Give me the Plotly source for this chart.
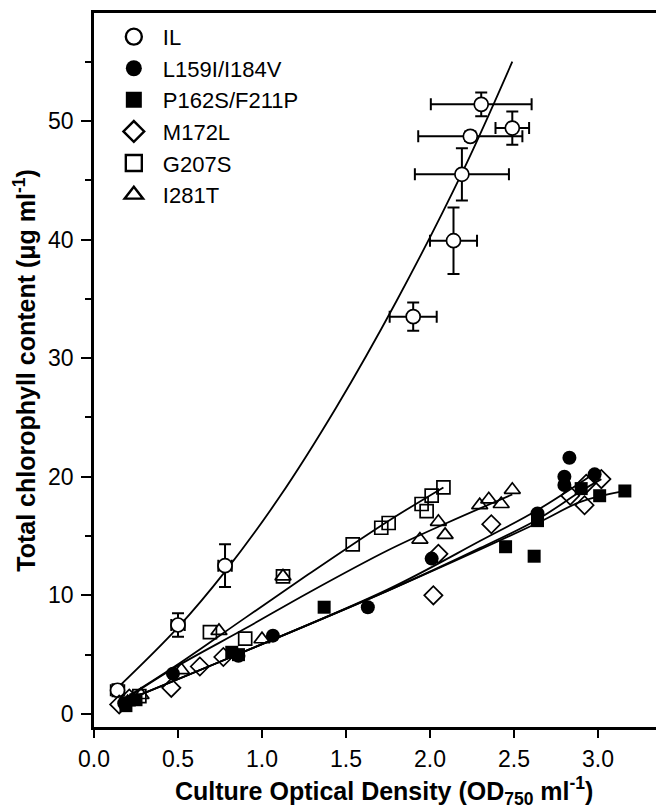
import plotly.graph_objects as go

# ---------------- data ----------------
il_x = [0.14, 0.50, 0.78, 1.90, 2.14, 2.19, 2.24, 2.305, 2.49]
il_y = [2.0, 7.5, 12.5, 33.5, 39.9, 45.5, 48.7, 51.4, 49.4]
il_xerr = [0.04, 0.04, 0.04, 0.14, 0.14, 0.28, 0.31, 0.30, 0.10]
il_yerr = [0.5, 1.0, 1.8, 1.2, 2.8, 2.2, 0.4, 1.0, 1.4]

l159_x = [0.18, 0.47, 0.86, 1.065, 1.63, 2.01, 2.64, 2.80, 2.80, 2.83, 2.98]
l159_y = [0.9, 3.4, 4.9, 6.6, 9.0, 13.1, 16.9, 20.0, 19.3, 21.6, 20.2]

p162_x = [0.19, 0.25, 0.82, 0.86, 1.37, 2.45, 2.62, 2.64, 2.90, 3.01, 3.16]
p162_y = [0.7, 1.2, 5.2, 5.0, 9.0, 14.1, 13.3, 16.3, 19.0, 18.4, 18.8]

m172_x = [0.15, 0.21, 0.46, 0.63, 0.77, 2.02, 2.05, 2.365, 2.835, 2.92, 2.93, 3.02]
m172_y = [0.8, 1.3, 2.2, 4.0, 4.8, 10.0, 13.5, 16.0, 18.4, 17.6, 19.4, 19.8]

g207_x = [0.27, 0.69, 0.90, 1.125, 1.54, 1.71, 1.754, 1.95, 1.98, 2.01, 2.08]
g207_y = [1.5, 6.9, 6.35, 11.6, 14.3, 15.7, 16.1, 17.7, 17.1, 18.4, 19.1]

i281_x = [0.20, 0.28, 0.52, 0.744, 1.0, 1.125, 1.94, 2.05, 2.09, 2.296, 2.35, 2.424, 2.49]
i281_y = [1.0, 1.6, 3.7, 7.0, 6.3, 11.6, 14.7, 16.2, 15.1, 17.6, 18.1, 17.7, 18.9]

# fitted curves, points
il_fit_x = [0.14, 0.50, 0.78, 1.10, 1.44, 1.80, 2.19, 2.49]
il_fit_y = [2.2, 7.3, 12.0, 18.2, 25.8, 34.8, 45.6, 55.0]

g207_fit_x = [0.17, 0.48, 0.90, 1.274, 1.75, 2.08]
g207_fit_y = [1.2, 4.0, 8.1, 11.75, 16.25, 19.1]

i281_fit_x = [0.17, 0.48, 0.90, 1.274, 1.75, 2.10, 2.49]
i281_fit_y = [1.1, 3.9, 7.2, 10.2, 13.8, 16.1, 18.5]

l159_fit_x = [0.17, 0.80, 1.75, 2.30, 2.64, 2.98]
l159_fit_y = [1.0, 4.7, 10.5, 14.6, 17.2, 20.3]

m172_fit_x = [0.15, 0.80, 1.75, 2.30, 2.64, 2.90, 3.02]
m172_fit_y = [0.9, 4.7, 10.4, 14.0, 16.4, 18.8, 19.8]

p162_fit_x = [0.17, 0.80, 1.75, 2.64, 2.90, 3.16]
p162_fit_y = [1.0, 4.7, 10.4, 16.1, 17.9, 18.8]

series_names = ["IL", "L159I/I184V", "P162S/F211P", "M172L", "G207S", "I281T"]

x_ticks = [0.0, 0.5, 1.0, 1.5, 2.0, 2.5, 3.0]
y_ticks = [0, 10, 20, 30, 40, 50]

x_title = "<b>Culture Optical Density (OD<sub>750</sub> ml<sup>-1</sup>)</b>"
y_title = "<b>Total chlorophyll content (μg ml<sup>-1</sup>)</b>"

# ---------------- figure ----------------
FONT = "Liberation Sans, Arial, sans-serif"
fig = go.Figure()

line_style = dict(color="black", width=1.8, shape="spline")
for fx, fy in [(il_fit_x, il_fit_y), (g207_fit_x, g207_fit_y), (i281_fit_x, i281_fit_y),
               (l159_fit_x, l159_fit_y), (m172_fit_x, m172_fit_y), (p162_fit_x, p162_fit_y)]:
    fig.add_trace(go.Scatter(x=fx, y=fy, mode="lines", line=line_style,
                             showlegend=False, hoverinfo="skip"))

mk_line = dict(color="black", width=1.7)
styles = [
    dict(symbol="circle", color="white", line=mk_line),
    dict(symbol="circle", color="black", line=dict(color="black", width=0)),
    dict(symbol="square", color="black", line=dict(color="black", width=0)),
    dict(symbol="diamond-open", color="black", line=mk_line),
    dict(symbol="square-open", color="black", line=mk_line),
    dict(symbol="triangle-up-open", color="black", line=mk_line),
]
sizes = [14, 14, 13, 14, 13, 14]
data = [(il_x, il_y), (l159_x, l159_y), (p162_x, p162_y),
        (m172_x, m172_y), (g207_x, g207_y), (i281_x, i281_y)]

for i, (name, (sx, sy)) in enumerate(zip(series_names, data)):
    kw = {}
    if i == 0:
        kw = dict(error_x=dict(type="data", array=il_xerr, color="black", thickness=2, width=6),
                  error_y=dict(type="data", array=il_yerr, color="black", thickness=2, width=6))
    fig.add_trace(go.Scatter(x=sx, y=sy, mode="markers", name=name, showlegend=False,
                             marker=dict(size=sizes[i], **styles[i]), **kw))

# legend entries (larger symbols, as in the original key)
for i, name in enumerate(series_names):
    st = dict(styles[i])
    if st["line"]["width"] > 0:
        st["line"] = dict(color="black", width=2.4)
    fig.add_trace(go.Scatter(x=[None], y=[None], mode="markers", name=name,
                             marker=dict(size=16, **st)))

fig.update_layout(
    width=664, height=809,
    margin=dict(l=86, r=8, t=5, b=90, autoexpand=False),
    paper_bgcolor="white", plot_bgcolor="white",
    font=dict(family=FONT, size=22, color="black"),
    legend=dict(x=0.019, y=0.996, xanchor="left", yanchor="top",
                bgcolor="rgba(0,0,0,0)", borderwidth=0,
                font=dict(family=FONT, size=22, color="black"),
                itemsizing="trace", itemwidth=48, tracegroupgap=0),
    xaxis=dict(
        range=[0, 3.393], tickvals=x_ticks, ticktext=[f"{v:.1f}" for v in x_ticks],
        ticks="outside", ticklen=8, tickwidth=2, tickcolor="black",
        ticklabelstandoff=2,
        showline=True, linecolor="black", linewidth=2.5, mirror=True,
        showgrid=False, zeroline=False, automargin=False,
        tickfont=dict(family=FONT, size=23),
    ),
    yaxis=dict(
        range=[-1.1, 59.1], tickvals=y_ticks,
        ticks="outside", ticklen=10, tickwidth=2, tickcolor="black",
        ticklabelstandoff=3,
        minor=dict(dtick=5, tick0=5, ticks="outside", ticklen=6, tickwidth=2, tickcolor="black"),
        showline=True, linecolor="black", linewidth=2.5, mirror=True,
        showgrid=False, zeroline=False, automargin=False,
        tickfont=dict(family=FONT, size=23),
    ),
    annotations=[
        dict(text=x_title, xref="paper", yref="paper", x=0.509, y=-0.089,
             xanchor="center", yanchor="middle", showarrow=False,
             font=dict(family=FONT, size=25, color="black")),
        dict(text=y_title, xref="paper", yref="paper", x=-0.1215, y=0.5,
             xanchor="center", yanchor="middle", showarrow=False, textangle=-90,
             font=dict(family=FONT, size=25, color="black")),
    ],
)

fig.write_html("out.html")
